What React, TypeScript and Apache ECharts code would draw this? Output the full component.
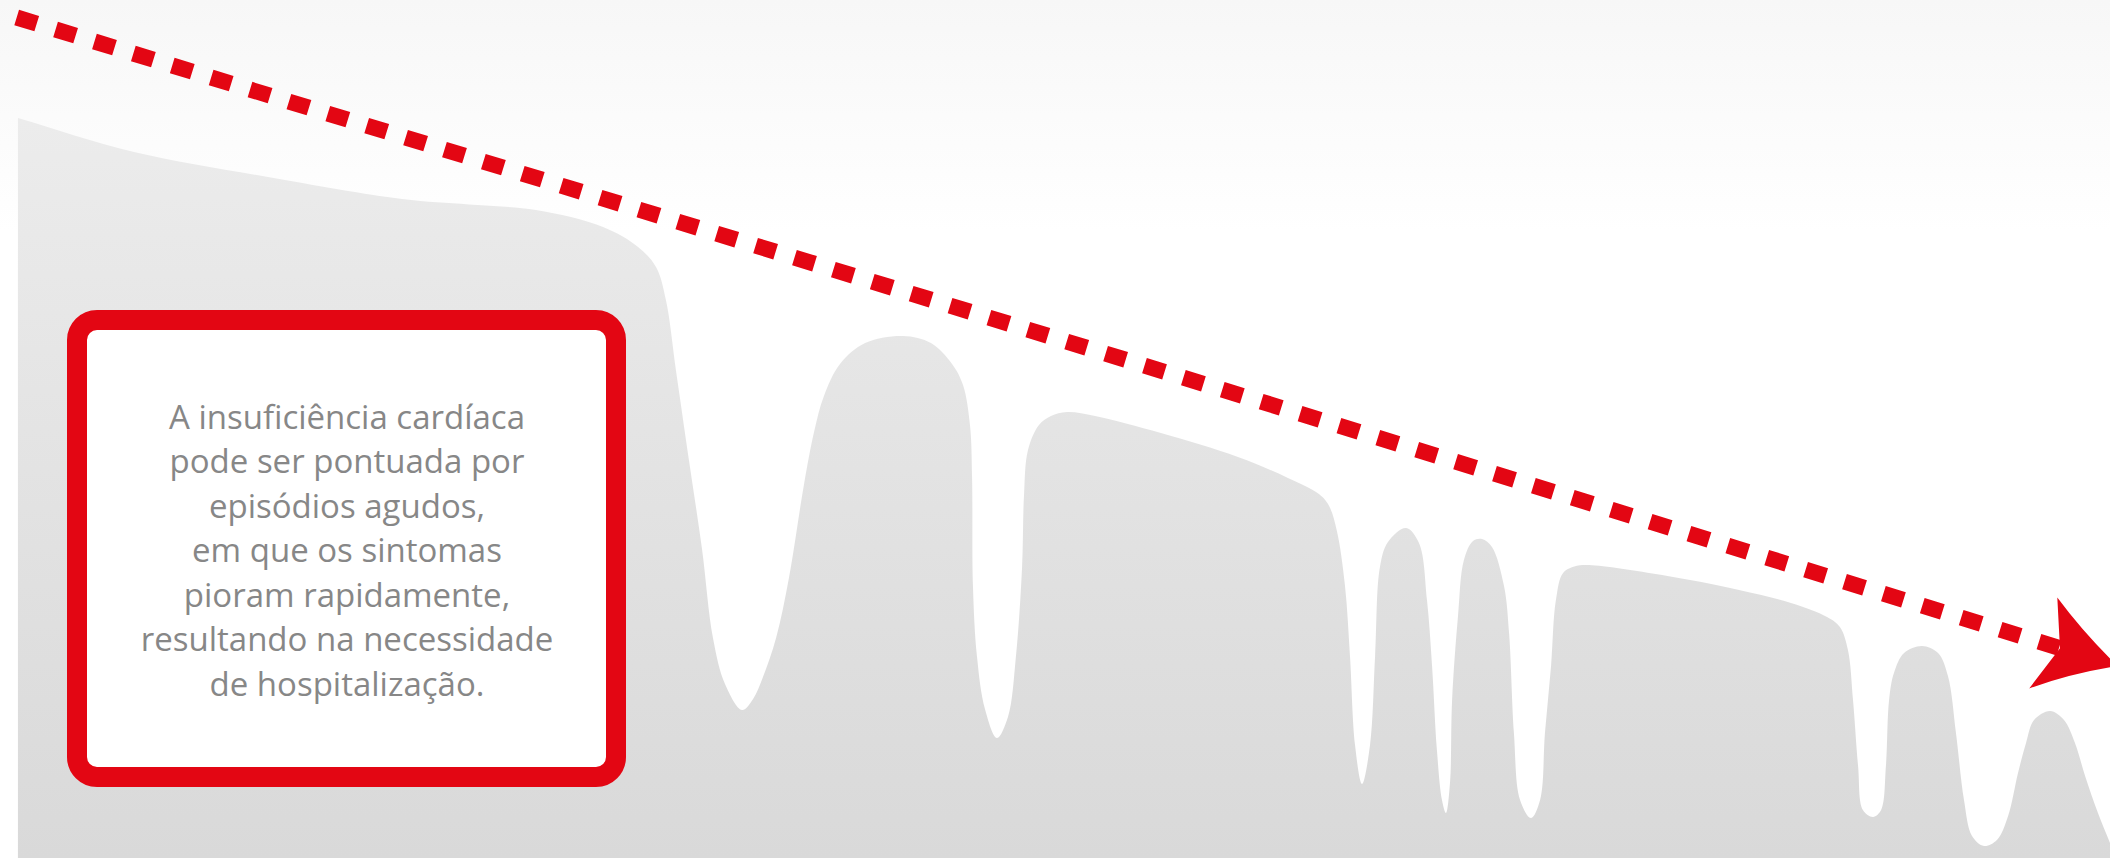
import React, { useEffect, useRef } from "react";
import * as echarts from "echarts";

// Silhouette of the clinical course (x: time 0..100, y: clinical status 0..100)
const profileX = [
  0.85, 6.35, 12.7, 19.05, 22.23, 25.4, 28.58, 30.24, 31.09, 31.56, 32.04, 32.65, 33.27, 33.79, 34.36,
  35.17, 35.69, 36.16, 36.78, 37.39, 38.1, 38.58, 39.05, 39.81, 41.0, 42.8, 44.12, 45.12, 45.64, 45.97,
  46.07, 46.11, 46.3, 46.68, 47.25, 47.77, 48.15, 48.44, 48.53, 48.72, 49.24, 49.81, 50.57, 51.9, 55.02,
  58.67, 61.04, 62.51, 62.99, 63.36, 63.74, 63.98, 64.22, 64.55, 64.93, 65.17, 65.4, 65.78, 66.64, 67.25,
  67.63, 67.87, 68.1, 68.34, 68.53, 68.72, 68.82, 69.1, 69.38, 69.81, 70.24, 70.71, 71.28, 71.52, 71.75,
  72.04, 72.56, 72.99, 73.22, 73.51, 73.74, 74.08, 74.69, 75.31, 78.77, 82.42, 84.88, 86.59, 87.2, 87.58,
  87.82, 88.06, 88.29, 88.77, 89.15, 89.38, 89.53, 89.76, 90.24, 91.09, 91.85, 92.32, 92.7, 93.08, 93.46,
  94.03, 94.64, 95.17, 95.64, 96.02, 96.4, 97.16, 97.82, 98.34, 98.82, 99.43, 100.0,
];
const profileY = [
  86.25, 82.28, 79.37, 76.81, 76.17, 75.52, 73.54, 71.21, 68.88, 65.03, 56.76, 46.39, 36.01, 25.64, 20.28,
  17.25, 18.53, 21.1, 25.64, 32.63, 43.47, 49.65, 53.85, 57.58, 60.02, 60.84, 60.02, 57.58, 55.13, 50.47,
  44.29, 31.82, 23.54, 17.37, 13.99, 16.43, 23.54, 33.92, 42.19, 47.55, 50.47, 51.52, 51.98, 51.52, 49.53,
  46.74, 44.29, 42.42, 41.03, 38.11, 31.82, 23.54, 13.17, 8.62, 13.17, 23.54, 33.92, 36.83, 38.46, 36.71,
  30.07, 22.38, 12.59, 6.76, 5.24, 8.74, 18.41, 28.21, 34.73, 36.95, 37.18, 36.25, 31.7, 26.22, 14.57,
  6.76, 4.66, 6.76, 14.57, 22.38, 30.07, 33.22, 34.03, 34.15, 32.98, 31.24, 29.72, 28.09, 26.92, 24.24,
  18.41, 10.72, 5.59, 4.78, 5.59, 10.72, 18.41, 21.56, 23.89, 24.71, 23.89, 21.21, 14.57, 6.76, 2.56,
  1.4, 2.1, 4.9, 9.91, 13.4, 16.08, 17.13, 16.08, 13.4, 9.56, 5.24, 1.75,
];

// Declining trend (dashed arrow)
const trendX = [0.79, 97.63];
const trendY = [97.96, 24.46];

const boxLines = [
  "A insuficiência cardíaca",
  "pode ser pontuada por",
  "episódios agudos,",
  "em que os sintomas",
  "pioram rapidamente,",
  "resultando na necessidade",
  "de hospitalização.",
];

const RED = "#e30613";
const ARROW_PATH =
  "path://M-60.5,0 M-17.5,-47.7 L0,0 L-17.5,47.5 Q19,20 60.5,0 Q19,-21 -17.5,-47.7 Z";

// centripetal Catmull-Rom through pixel points -> cubic bezier path commands
function splinePath(pts: number[][]): string {
  const f = (v: number) => v.toFixed(2);
  let d = "";
  for (let i = 0; i < pts.length - 1; i++) {
    const p0 = pts[i - 1] || pts[i];
    const p1 = pts[i];
    const p2 = pts[i + 1];
    const p3 = pts[i + 2] || pts[i + 1];
    const t01 = Math.pow(Math.hypot(p1[0] - p0[0], p1[1] - p0[1]), 0.5);
    const t12 = Math.pow(Math.hypot(p2[0] - p1[0], p2[1] - p1[1]), 0.5);
    const t23 = Math.pow(Math.hypot(p3[0] - p2[0], p3[1] - p2[1]), 0.5);
    const m1 = [p2[0] - p1[0], p2[1] - p1[1]];
    const m2 = [p2[0] - p1[0], p2[1] - p1[1]];
    if (t01 > 1e-6) {
      for (let k = 0; k < 2; k++) {
        m1[k] =
          p2[k] - p1[k] + t12 * ((p1[k] - p0[k]) / t01 - (p2[k] - p0[k]) / (t01 + t12));
      }
    }
    if (t23 > 1e-6) {
      for (let k = 0; k < 2; k++) {
        m2[k] =
          p2[k] - p1[k] + t12 * ((p3[k] - p2[k]) / t23 - (p3[k] - p1[k]) / (t12 + t23));
      }
    }
    const c1 = [p1[0] + m1[0] / 3, p1[1] + m1[1] / 3];
    const c2 = [p2[0] - m2[0] / 3, p2[1] - m2[1] / 3];
    d += ` C${f(c1[0])},${f(c1[1])} ${f(c2[0])},${f(c2[1])} ${f(p2[0])},${f(p2[1])}`;
  }
  return d;
}

export default function App() {
  const ref = useRef<HTMLDivElement>(null);

  useEffect(() => {
    if (!ref.current) return;
    const chart = echarts.init(ref.current, undefined, { renderer: "svg" });

    const areaFill = new echarts.graphic.LinearGradient(0, 0, 0, 1, [
      { offset: 0, color: "#ececec" },
      { offset: 1, color: "#d9d9d9" },
    ]);

    const option: any = {
      animation: false,
      backgroundColor: new echarts.graphic.LinearGradient(0, 0, 0, 1, [
        { offset: 0, color: "#f7f7f7" },
        { offset: 0.27, color: "#ffffff" },
        { offset: 1, color: "#ffffff" },
      ]),
      grid: { left: 0, right: 0, top: 0, bottom: 0, containLabel: false },
      xAxis: { type: "value", min: 0, max: 100, show: false },
      yAxis: { type: "value", min: 0, max: 100, show: false },
      series: [
        {
          id: "profile",
          type: "custom",
          silent: true,
          data: profileX.map((x, i) => [x, profileY[i]]),
          encode: { x: 0, y: 1 },
          z: 1,
          renderItem: (params: any, api: any) => {
            if (params.dataIndex !== 0) return null;
            const pts = profileX.map((x, i) => api.coord([x, profileY[i]]) as number[]);
            const b0 = api.coord([profileX[0], 0]);
            const b1 = api.coord([profileX[profileX.length - 1], 0]);
            const d =
              `M${b0[0]},${b0[1]} L${pts[0][0]},${pts[0][1]}` +
              splinePath(pts) +
              ` L${b1[0]},${b1[1]} Z`;
            return {
              type: "path",
              shape: { pathData: d },
              style: { fill: areaFill, stroke: null },
            };
          },
        },
        {
          id: "trend",
          type: "line",
          data: trendX.map((x, i) => [x, trendY[i]]),
          symbol: "none",
          silent: true,
          lineStyle: { color: RED, width: 16, type: [21, 19.7], cap: "butt" },
          z: 3,
        },
        {
          id: "arrow",
          type: "scatter",
          data: [[trendX[1], trendY[1]]],
          symbol: ARROW_PATH,
          symbolSize: [121, 95.2],
          symbolKeepAspect: false,
          symbolRotate: 0,
          silent: true,
          itemStyle: { color: RED, opacity: 1 },
          z: 4,
        },
      ],
      graphic: [
        {
          type: "rect",
          z: 10,
          silent: true,
          shape: { x: 77, y: 320, width: 539, height: 457, r: 20 },
          style: { fill: "#ffffff", stroke: RED, lineWidth: 20 },
        },
        {
          type: "text",
          z: 11,
          silent: true,
          x: 347,
          y: 549.5,
          style: {
            text: boxLines.join("\n"),
            fill: "#878787",
            fontFamily: "'Open Sans', 'Noto Sans', sans-serif",
            fontSize: 33,
            lineHeight: 44.5,
            align: "center",
            verticalAlign: "middle",
            textAlign: "center",
            textVerticalAlign: "middle",
          },
        },
      ],
    };

    chart.setOption(option);

    const p0 = chart.convertToPixel({ gridIndex: 0 }, [trendX[0], trendY[0]]) as number[];
    const p1 = chart.convertToPixel({ gridIndex: 0 }, [trendX[1], trendY[1]]) as number[];
    const angle = (-Math.atan2(p1[1] - p0[1], p1[0] - p0[0]) * 180) / Math.PI;
    chart.setOption({ series: [{ id: "arrow", symbolRotate: angle }] });

    return () => {
      chart.dispose();
    };
  }, []);

  return (
    <div
      ref={ref}
      style={{ position: "fixed", left: 0, top: 0, width: "2110px", height: "858px" }}
    />
  );
}
